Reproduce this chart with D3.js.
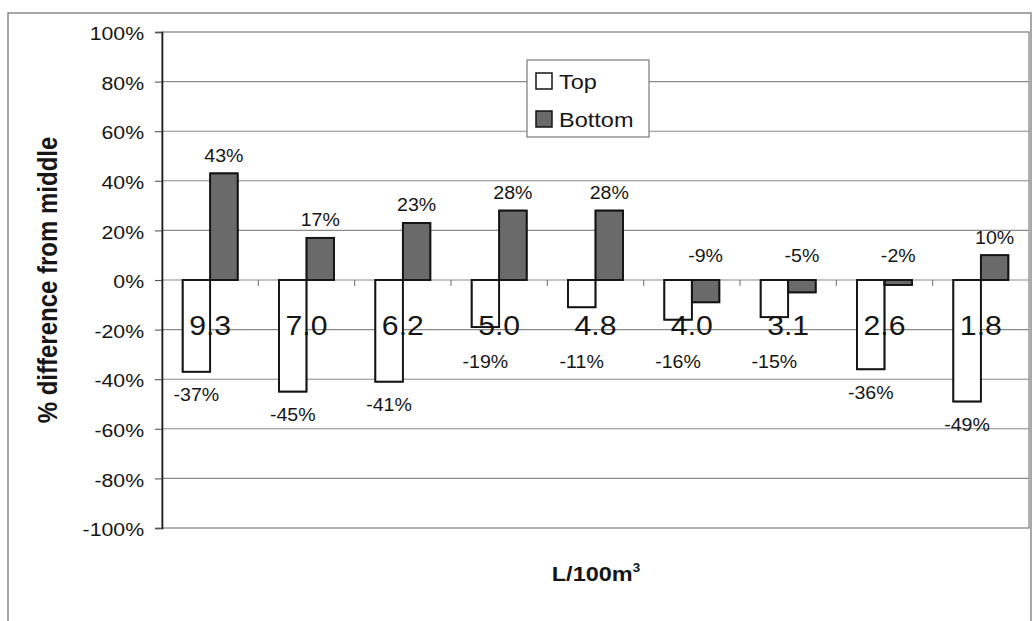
<!DOCTYPE html>
<html>
<head>
<meta charset="utf-8">
<script src="https://cdn.jsdelivr.net/npm/d3@7"></script>
<style>
  body { margin: 0; background: #ffffff; }
  text { font-family: "Liberation Sans", Arial, sans-serif; fill: #161616; }
</style>
</head>
<body>
<svg id="chart" width="1034" height="621"></svg>
<script>
// Airflow categories (L/100m³) and percentage differences from the middle reading
const categories = ["9.3", "7.0", "6.2", "5.0", "4.8", "4.0", "3.1", "2.6", "1.8"];
const topValues = [-37, -45, -41, -19, -11, -16, -15, -36, -49];
const bottomValues = [43, 17, 23, 28, 28, -9, -5, -2, 10];
const seriesNames = ["Top", "Bottom"];
const seriesFills = ["#ffffff", "#6a6a6a"];
const yTickValues = [-100, -80, -60, -40, -20, 0, 20, 40, 60, 80, 100];
const yTitle = "% difference from middle";
const xTitle = "L/100m";
const xTitleSup = "3";

const plot = { left: 162, right: 1029, top: 32, bottom: 528 };
const SX = 1.12; // horizontal text stretch

const svg = d3.select("#chart");

// outer chart frame
svg.append("rect")
  .attr("x", 8).attr("y", 13).attr("width", 1023).attr("height", 620)
  .attr("fill", "#ffffff").attr("stroke", "#7a7a7a").attr("stroke-width", 1.3);

const x = d3.scaleBand().domain(categories).range([plot.left, plot.right]).paddingInner(0).paddingOuter(0);
const xs = d3.scaleBand().domain(seriesNames).range([0, x.bandwidth()]).paddingInner(0).paddingOuter(0.75);
const y = d3.scaleLinear().domain([-100, 100]).range([plot.bottom, plot.top]);
const y0 = y(0);

// plot area
svg.append("rect")
  .attr("x", plot.left).attr("y", plot.top)
  .attr("width", plot.right - plot.left).attr("height", plot.bottom - plot.top)
  .attr("fill", "#ffffff").attr("stroke", "#7d7d7d").attr("stroke-width", 1.2);

// horizontal gridlines
svg.append("g").selectAll("line")
  .data(yTickValues.filter(d => d !== -100 && d !== 100))
  .join("line")
  .attr("x1", plot.left).attr("x2", plot.right)
  .attr("y1", d => y(d)).attr("y2", d => y(d))
  .attr("stroke", "#8a8a8a").attr("stroke-width", 1.1);

// y axis with percentage labels
const yAxis = svg.append("g")
  .attr("transform", `translate(${plot.left},0)`)
  .call(d3.axisLeft(y).tickValues(yTickValues).tickFormat(d => d + "%").tickSize(7).tickPadding(9));
yAxis.select(".domain").attr("stroke", "#1a1a1a").attr("stroke-width", 1.6);
yAxis.selectAll(".tick line").attr("stroke", "#555").attr("stroke-width", 1.1);
yAxis.selectAll(".tick text")
  .attr("font-size", 19).attr("fill", "#161616")
  .attr("font-family", "Liberation Sans, Arial, sans-serif")
  .attr("dy", "0.4em")
  .attr("transform", `scale(${SX},1)`);

// category boundary ticks on the zero line
svg.append("g").selectAll("line")
  .data(categories.slice(1))
  .join("line")
  .attr("x1", d => x(d)).attr("x2", d => x(d))
  .attr("y1", y0).attr("y2", y0 + 6)
  .attr("stroke", "#777").attr("stroke-width", 1.1);

// grouped bars
const rows = categories.map((c, i) => ({ cat: c, vals: [topValues[i], bottomValues[i]] }));
const barData = rows.flatMap(r => r.vals.map((v, s) => ({ cat: r.cat, s, v })));

function barRects(sel) {
  return sel
    .attr("x", d => x(d.cat) + xs(seriesNames[d.s]))
    .attr("y", d => y(Math.max(0, d.v)))
    .attr("width", xs.bandwidth())
    .attr("height", d => Math.abs(y(d.v) - y0));
}

svg.append("g").selectAll("rect")
  .data(barData).join("rect")
  .call(barRects)
  .attr("fill", d => seriesFills[d.s])
  .attr("stroke", "#141414").attr("stroke-width", 1.6);

// category labels, drawn large below the zero line
svg.append("g").selectAll("text")
  .data(categories).join("text")
  .attr("transform", d => `translate(${x(d) + x.bandwidth() / 2},${y0 + 55}) scale(${SX},1)`)
  .attr("text-anchor", "middle")
  .attr("font-size", 27)
  .text(d => d);

// bar outlines over the category labels
svg.append("g").selectAll("rect")
  .data(barData).join("rect")
  .call(barRects)
  .attr("fill", "none")
  .attr("stroke", "#141414").attr("stroke-width", 1.8);

// value labels
function labelY(d) {
  if (d.s === 0) {
    return d.v < 0 ? Math.max(y(d.v) + 23, y0 + 82) : y(d.v) - 18;
  }
  return d.v >= 0 ? y(d.v) - 18 : y0 - 24;
}
svg.append("g").selectAll("text")
  .data(barData).join("text")
  .attr("transform", d => `translate(${x(d.cat) + xs(seriesNames[d.s]) + xs.bandwidth() / 2},${labelY(d)}) scale(${SX},1)`)
  .attr("text-anchor", "middle")
  .attr("dy", "0.36em")
  .attr("font-size", 17.5)
  .text(d => d.v + "%");

// axis titles
svg.append("text")
  .attr("transform", `translate(57,280) scale(${SX},1) rotate(-90)`)
  .attr("text-anchor", "middle")
  .attr("font-size", 24)
  .attr("font-weight", "bold")
  .text(yTitle);

const xt = svg.append("text")
  .attr("transform", `translate(596,581) scale(${SX},1)`)
  .attr("text-anchor", "middle")
  .attr("font-size", 21)
  .attr("font-weight", "bold");
xt.append("tspan").text(xTitle);
xt.append("tspan").attr("font-size", 12).attr("dy", -9).text(xTitleSup);

// legend
const legend = svg.append("g");
legend.append("rect")
  .attr("x", 527).attr("y", 60).attr("width", 122).attr("height", 77)
  .attr("fill", "#ffffff").attr("stroke", "#7a7a7a").attr("stroke-width", 1.2);
const li = legend.selectAll("g.item")
  .data(seriesNames).join("g")
  .attr("class", "item")
  .attr("transform", (d, i) => `translate(536,${81 + i * 38})`);
li.append("rect")
  .attr("x", 0).attr("y", -8).attr("width", 16).attr("height", 16)
  .attr("fill", (d, i) => seriesFills[i])
  .attr("stroke", "#141414").attr("stroke-width", 1.5);
li.append("text")
  .attr("transform", `translate(23,0) scale(${SX},1)`)
  .attr("dy", "0.36em")
  .attr("font-size", 21)
  .text(d => d);
</script>
</body>
</html>
